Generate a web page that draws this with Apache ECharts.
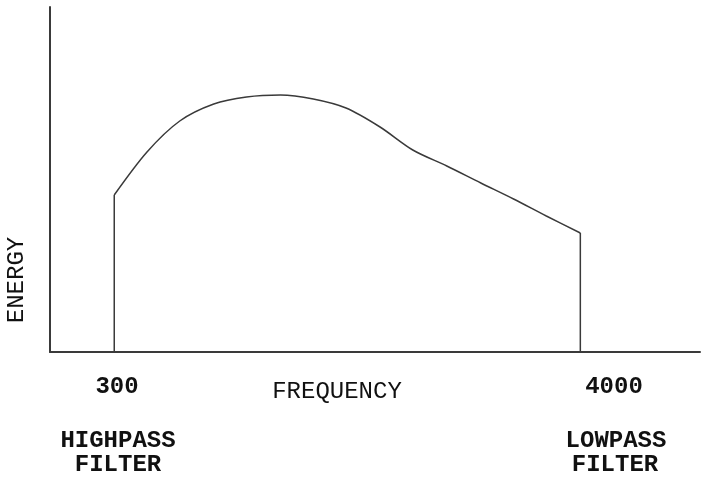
<!DOCTYPE html>
<html>
<head>
<meta charset="utf-8">
<script src="https://cdn.jsdelivr.net/npm/echarts@6/dist/echarts.min.js"></script>
<style>
  html, body { margin: 0; padding: 0; background: #fff; }
  #box { width: 702px; height: 478px; }
</style>
</head>
<body>
<div id="box"></div>
<script>
// curve (frequency, relative energy)
var frequency = [300, 560, 820, 1090, 1350, 1620, 1880, 2140, 2410, 2670, 2940, 3210, 3470, 3730, 4000];
var energy = [157, 200, 231, 248, 255, 257, 253, 244, 225, 202, 186, 169, 153, 136, 119];
// filter cut-offs
var cutoffs = [300, 4000];
var cutoffLabels = ['300', '4000'];
var filterNames = [['HIGHPASS', 'FILTER'], ['LOWPASS', 'FILTER']];
var xName = 'FREQUENCY';
var yName = 'ENERGY';

var font = '"Courier New", "Liberation Mono", monospace';
var ink = '#3a3a3a';

function ech() {
    var myChart = echarts.init(document.getElementById('box'));

    var curve = [];
    for (var i = 0; i < frequency.length; i++) {
        curve.push([frequency[i], energy[i]]);
    }
    // vertical drops at the two cut-offs
    var drops = cutoffs.map(function(f) {
        var k = frequency.indexOf(f);
        return {
            type: 'line',
            data: [[f, 1], [f, energy[k]]],
            symbol: 'none',
            silent: true,
            lineStyle: { color: ink, width: 1.5 }
        };
    });

    function txt(s, x, y, bold, rot) {
        return {
            type: 'text',
            x: x, y: y,
            rotation: rot || 0,
            silent: true,
            style: {
                text: s,
                align: 'center',
                verticalAlign: 'middle',
                fill: '#111',
                font: (bold ? 'bold ' : '') + '24px ' + font
            }
        };
    }

    var option = {
        animation: false,
        grid: { left: 50, right: 2, top: 7, bottom: 126 },
        xAxis: {
            type: 'value',
            min: -210,
            max: 4950,
            axisLine: { onZero: false, lineStyle: { color: ink, width: 2 } },
            axisTick: { show: false },
            axisLabel: { show: false },
            splitLine: { show: false }
        },
        yAxis: {
            type: 'value',
            min: 0,
            max: 345,
            axisLine: { show: true, onZero: false, lineStyle: { color: ink, width: 2 } },
            axisTick: { show: false },
            axisLabel: { show: false },
            splitLine: { show: false }
        },
        series: [{
            type: 'line',
            data: curve,
            smooth: 0.3,
            symbol: 'none',
            silent: true,
            lineStyle: { color: ink, width: 1.5 }
        }].concat(drops),
        graphic: [
            txt(cutoffLabels[0], 117, 387, true),
            txt(cutoffLabels[1], 614, 387, true),
            txt(xName, 337, 392, false),
            txt(filterNames[0][0], 118, 441, true),
            txt(filterNames[0][1], 118, 465, true),
            txt(filterNames[1][0], 616, 441, true),
            txt(filterNames[1][1], 615, 465, true),
            txt(yName, 17, 280, false, Math.PI / 2)
        ]
    };
    myChart.setOption(option);
}
ech();
</script>
</body>
</html>
